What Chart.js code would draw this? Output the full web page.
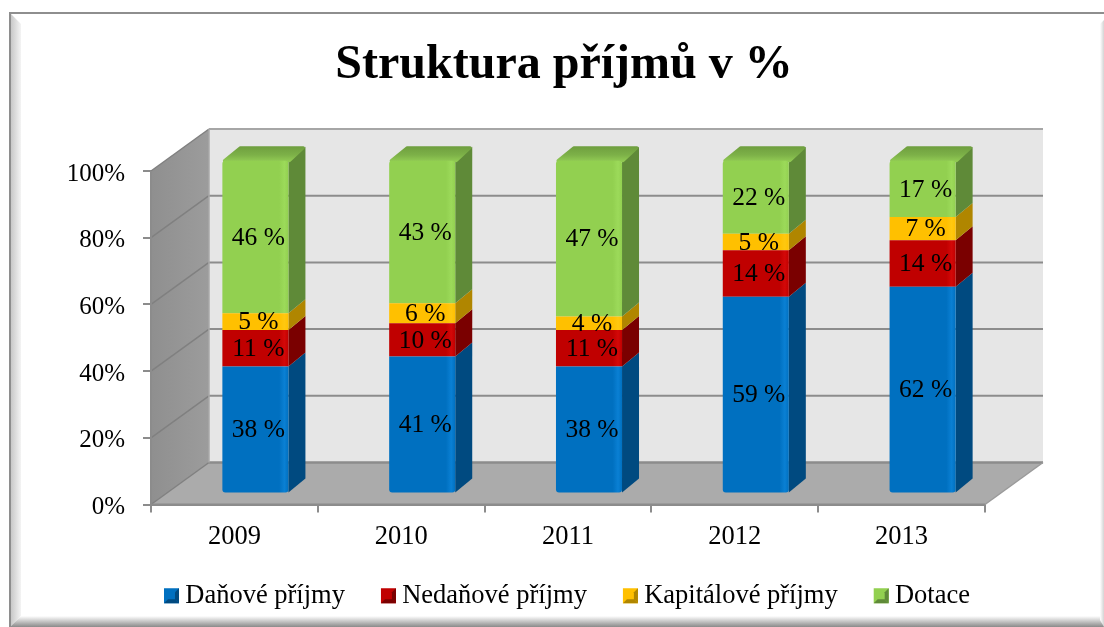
<!DOCTYPE html>
<html>
<head>
<meta charset="utf-8">
<title>Struktura příjmů v %</title>
<script src="https://cdn.jsdelivr.net/npm/chart.js@4"></script>
<style>
html, body { margin: 0; padding: 0; background: #fff; }
canvas { display: block; }
</style>
</head>
<body>
<canvas id="grafico" width="1104" height="627"></canvas>
<script>
var roky = ['2009', '2010', '2011', '2012', '2013'];
var danove = [38, 41, 38, 59, 62];
var nedanove = [11, 10, 11, 14, 14];
var kapitalove = [5, 6, 4, 5, 7];
var dotace = [46, 43, 47, 22, 17];
var nazvy = ['Daňové příjmy', 'Nedaňové příjmy', 'Kapitálové příjmy', 'Dotace'];

var barvy = ['#0070c0', '#c00000', '#ffc000', '#92d050'];
var svetle = ['#0a80d4', '#d40808', '#ffc810', '#9cda5a'];
var bocni = ['#004a80', '#7a0000', '#b08600', '#5f8a38'];

var PISMO = '"Liberation Serif", "Times New Roman", serif';
var HLOUBKA_X = 58, HLOUBKA_Y = -42;    // depth of the 3D box
var POSUN_X = 21, POSUN_Y = -12;        // bars stand inside the box
var BOK_X = 17, BOK_Y = -14;            // depth of one bar

function prechod(i) {
	return function (c) {
		var osa = c.chart.scales.x;
		if (!osa || c.dataIndex === undefined) return barvy[i];
		var sirka = osa.getPixelForValue(1) - osa.getPixelForValue(0);
		var stred = osa.getPixelForValue(c.dataIndex);
		var l = stred - sirka * 0.198, p = stred + sirka * 0.198;
		var g = c.chart.ctx.createLinearGradient(l, 0, p, 0);
		g.addColorStop(0, barvy[i]);
		g.addColorStop(0.86, barvy[i]);
		g.addColorStop(0.94, svetle[i]);
		g.addColorStop(1, barvy[i]);
		return g;
	};
}

function mnohouhelnik(ctx, body, barva) {
	ctx.beginPath();
	ctx.moveTo(body[0][0], body[0][1]);
	for (var i = 1; i < body.length; i++) ctx.lineTo(body[i][0], body[i][1]);
	ctx.closePath();
	ctx.fillStyle = barva;
	ctx.fill();
}

function cara(ctx, x1, y1, x2, y2, barva, sirka) {
	ctx.beginPath();
	ctx.moveTo(x1, y1);
	ctx.lineTo(x2, y2);
	ctx.strokeStyle = barva;
	ctx.lineWidth = sirka;
	ctx.stroke();
}

// white page, frame and the bevelled edge of the picture
var ramecek = {
	id: 'ramecek',
	beforeDraw: function (chart) {
		var ctx = chart.ctx, w = chart.width, h = chart.height;
		ctx.save();
		ctx.fillStyle = '#fff';
		ctx.fillRect(0, 0, w, h);
		var g = ctx.createLinearGradient(10, 0, 21, 0);
		g.addColorStop(0, '#c4c4c4');
		g.addColorStop(1, '#f4f4f4');
		mnohouhelnik(ctx, [[10, 13], [21, 24], [21, 616], [10, 627]], g);
		g = ctx.createLinearGradient(0, 616, 0, 627);
		g.addColorStop(0, '#ffffff');
		g.addColorStop(1, '#8a8a8a');
		mnohouhelnik(ctx, [[21, 616], [w, 616], [w, 627], [10, 627]], g);
		g = ctx.createLinearGradient(w - 4, 0, w, 0);
		g.addColorStop(0, '#ffffff');
		g.addColorStop(1, '#d4d4d4');
		mnohouhelnik(ctx, [[w - 4, 24], [w, 20], [w, 627], [w - 4, 620]], g);
		ctx.fillStyle = '#8e8e8e';
		ctx.fillRect(9, 12, 2, h - 12);
		ctx.fillRect(9, 12, w - 9, 2);
		ctx.restore();
	}
};

// walls, floor, side and top faces; bars are then drawn by the library on a shifted plane
var prostor = {
	id: 'prostor',
	afterLayout: function (chart) {
		// legend sits a little right of the title centre
		chart.legend.left += 3;
		chart.legend.right += 3;
	},
	beforeDatasetsDraw: function (chart) {
		var ctx = chart.ctx, a = chart.chartArea, osa = chart.scales.y;
		var dx = HLOUBKA_X, dy = HLOUBKA_Y;
		ctx.save();
		var g = ctx.createLinearGradient(a.left, 0, a.left + dx, 0);
		g.addColorStop(0, '#8f8f8f');
		g.addColorStop(1, '#9c9c9c');
		mnohouhelnik(ctx, [[a.left, a.top], [a.left + dx, a.top + dy], [a.left + dx, a.bottom + dy], [a.left, a.bottom]], g);
		mnohouhelnik(ctx, [[a.left + dx, a.top + dy], [a.right + dx, a.top + dy], [a.right + dx, a.bottom + dy], [a.left + dx, a.bottom + dy]], '#e6e6e6');
		mnohouhelnik(ctx, [[a.left, a.bottom], [a.right, a.bottom], [a.right + dx, a.bottom + dy], [a.left + dx, a.bottom + dy]], '#ababab');
		osa.ticks.forEach(function (t) {
			var y = osa.getPixelForValue(t.value);
			cara(ctx, a.left, y, a.left + dx, y + dy, '#808080', 1.5);
			cara(ctx, a.left + dx, y + dy, a.right + dx, y + dy, t.value === 100 ? '#a6a6a6' : '#8c8c8c', 2);
		});
		cara(ctx, a.left, a.bottom, a.right, a.bottom, '#8c8c8c', 2);
		cara(ctx, a.left + dx, a.bottom + dy, a.right + dx, a.bottom + dy, '#8c8c8c', 2);
		cara(ctx, a.right, a.bottom, a.right + dx, a.bottom + dy, '#9a9a9a', 1.5);
		cara(ctx, a.left + dx, a.top + dy, a.left + dx, a.bottom + dy, '#a8a8a8', 1.5);
		cara(ctx, a.left, a.top, a.left, a.bottom, '#8c8c8c', 2);

		ctx.translate(POSUN_X, POSUN_Y);
		var posledni = chart.data.datasets.length - 1;
		chart.data.datasets.forEach(function (d, i) {
			chart.getDatasetMeta(i).data.forEach(function (bar) {
				var l = bar.x - bar.width / 2, r = bar.x + bar.width / 2;
				mnohouhelnik(ctx, [[r, bar.y], [r + BOK_X, bar.y + BOK_Y], [r + BOK_X, bar.base + BOK_Y], [r, bar.base]], bocni[i]);
				if (i === posledni) {
					// top face with rounded corners, lighter towards the viewer
					var t = ctx.createLinearGradient(0, bar.y + BOK_Y, 0, bar.y);
					t.addColorStop(0, '#6f9f3f');
					t.addColorStop(0.6, '#7db148');
					t.addColorStop(1, '#8fc852');
					ctx.beginPath();
					ctx.moveTo(l + 2, bar.y);
					ctx.lineTo(l + BOK_X + 1, bar.y + BOK_Y + 1);
					ctx.lineTo(r + BOK_X - 2, bar.y + BOK_Y + 1);
					ctx.lineTo(r + 1, bar.y);
					ctx.closePath();
					ctx.fillStyle = t;
					ctx.strokeStyle = t;
					ctx.lineWidth = 3;
					ctx.lineJoin = 'round';
					ctx.fill();
					ctx.stroke();
				}
			});
		});
		ctx.restore();
		ctx.save();
		ctx.translate(POSUN_X, POSUN_Y);
	},
	afterDatasetsDraw: function (chart) {
		var ctx = chart.ctx;
		ctx.restore();
		ctx.save();
		ctx.font = '25.5px ' + PISMO;
		ctx.fillStyle = '#000';
		ctx.textAlign = 'center';
		ctx.textBaseline = 'middle';
		chart.data.datasets.forEach(function (d, i) {
			chart.getDatasetMeta(i).data.forEach(function (bar, j) {
				ctx.fillText(d.data[j] + ' %', bar.x + POSUN_X + 3, (bar.y + bar.base) / 2 + POSUN_Y + 1);
			});
		});
		ctx.restore();
	},
	afterDraw: function (chart) {
		// bevelled legend squares
		var ctx = chart.ctx;
		ctx.save();
		chart.legend.legendHitBoxes.forEach(function (box, i) {
			var x = box.left, y = box.top + (box.height - 15) / 2, s = 15, b = 4;
			ctx.fillStyle = barvy[i];
			ctx.fillRect(x, y, s, s);
			mnohouhelnik(ctx, [[x, y + s], [x + s, y + s], [x + s - b, y + s - b], [x + b, y + s - b]], bocni[i]);
			mnohouhelnik(ctx, [[x + s, y], [x + s, y + s], [x + s - b, y + s - b], [x + s - b, y + b]], bocni[i]);
		});
		ctx.restore();
	}
};

var canvas = document.getElementById('grafico');

var grafico = new Chart(canvas, {
	type: 'bar',
	data: {
		labels: roky,
		datasets: [danove, nedanove, kapitalove, dotace].map(function (hodnoty, i) {
			return {
				label: nazvy[i],
				data: hodnoty,
				yAxisID: 'sloupce',
				backgroundColor: prechod(i),
				borderWidth: 0,
				borderSkipped: false,
				borderRadius: i === 0 ? { bottomLeft: 3, bottomRight: 3 } : (i === 3 ? { topLeft: 3, topRight: 3 } : 0),
				clip: false
			};
		})
	},
	options: {
		responsive: false,
		animation: false,
		categoryPercentage: 1,
		barPercentage: 0.396,
		layout: { padding: { left: 24, right: 0, top: 0, bottom: 8 } },
		plugins: {
			title: {
				display: true,
				text: 'Struktura příjmů v %',
				color: '#000',
				font: { family: PISMO, size: 48, weight: 'bold', lineHeight: 1.2 },
				padding: { top: 37, bottom: 76.4 }
			},
			legend: {
				position: 'bottom',
				labels: {
					boxWidth: 8,
					boxHeight: 15,
					padding: 36,
					color: '#000',
					font: { family: PISMO, size: 26.5 },
					generateLabels: function (chart) {
						return chart.data.datasets.map(function (d, i) {
							return { text: d.label, fillStyle: 'transparent', strokeStyle: 'transparent', lineWidth: 0, hidden: false, datasetIndex: i };
						});
					}
				}
			},
			tooltip: { enabled: false }
		},
		scales: {
			x: {
				stacked: true,
				afterFit: function (s) { s.height = 42; },
				grid: { drawOnChartArea: false, color: '#8c8c8c', tickLength: 8, offset: true, lineWidth: 2 },
				border: { color: '#8c8c8c', width: 2 },
				ticks: { color: '#000', font: { family: PISMO, size: 26.5 }, padding: 9, maxRotation: 0 }
			},
			y: {
				min: 0,
				max: 100,
				afterFit: function (s) { s.width = 127; },
				grid: { drawOnChartArea: false, color: '#8c8c8c', tickLength: 8, lineWidth: 2 },
				border: { color: '#8c8c8c', width: 2 },
				ticks: {
					stepSize: 20,
					color: '#000',
					padding: 18,
					labelOffset: 3,
					font: { family: PISMO, size: 25 },
					callback: function (v) { return v + '%'; }
				}
			},
			sloupce: {
				// plane of the bars, slightly further away than the axis plane
				stacked: true,
				position: 'right',
				min: 0,
				max: 100.5,
				afterFit: function (s) { s.width = 119; },
				grid: { display: false },
				border: { display: false },
				ticks: { display: false }
			}
		}
	},
	plugins: [ramecek, prostor]
});
</script>
</body>
</html>
